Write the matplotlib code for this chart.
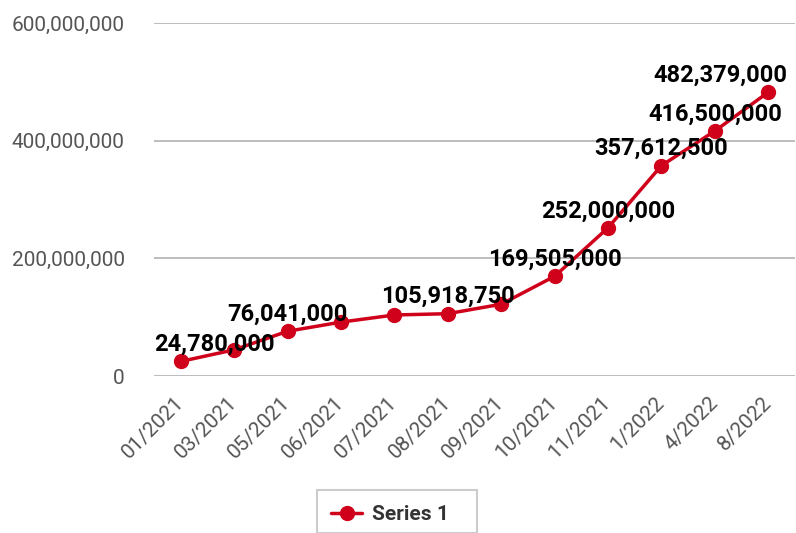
import matplotlib
matplotlib.use("Agg")
import matplotlib.pyplot as plt
from matplotlib.patches import Rectangle
from matplotlib.ticker import FuncFormatter, MultipleLocator

# Monthly totals, one point per reporting period
categories = ["01/2021", "03/2021", "05/2021", "06/2021", "07/2021", "08/2021",
              "09/2021", "10/2021", "11/2021", "1/2022", "4/2022", "8/2022"]
values = [24780000, 44500000, 76041000, 91600000, 103700000, 105918750,
          122000000, 169505000, 252000000, 357612500, 416500000, 482379000]
# which points carry a value label
labeled = [True, False, True, False, False, True,
           False, True, True, True, True, True]
series_name = "Series 1"

RED = "#d0021b"
GRID = "#bdbdbd"
TICK = "#555555"

plt.rcParams["font.family"] = ["Roboto", "DejaVu Sans"]

W, H = 796, 533
fig = plt.figure(figsize=(W / 100, H / 100), dpi=100)
ax = fig.add_axes([154 / W, 1 - 376 / H, 641 / W, 353 / H])

x = list(range(len(categories)))
ax.plot(x, values, color=RED, linewidth=2.5, marker="o", markersize=10,
        markeredgecolor=RED, markerfacecolor=RED, label=series_name, zorder=3,
        solid_capstyle="round")

ax.set_xlim(-0.5, len(categories) - 0.5)
ax.set_ylim(0, 600000000)
ax.yaxis.set_major_locator(MultipleLocator(200000000))
ax.yaxis.set_major_formatter(FuncFormatter(lambda v, p: f"{int(v):,}"))
ax.grid(axis="y", color=GRID, linewidth=1.4)
ax.set_axisbelow(True)
for s in ax.spines.values():
    s.set_visible(False)

ax.set_xticks(x)
ax.set_xticklabels(categories, rotation=45, ha="right", va="center",
                   rotation_mode="anchor")
ax.tick_params(axis="x", length=0, pad=17, labelsize=15, labelcolor=TICK)
ax.tick_params(axis="y", length=0, pad=21, labelsize=15, labelcolor=TICK)
for t in ax.get_yticklabels():
    t.set_va("center_baseline")

# value labels above the points
texts = []
for xi, v, show in zip(x, values, labeled):
    if show:
        t = ax.annotate(f"{v:,}", xy=(xi, v), xytext=(0, 7.5),
                        textcoords="offset points", ha="center", va="baseline",
                        fontsize=17, fontweight="bold", color="black", zorder=4)
        texts.append(t)

# keep labels inside the plot area horizontally
fig.canvas.draw()
renderer = fig.canvas.get_renderer()
axbox = ax.get_window_extent(renderer)
right_limit = axbox.x1 - 8
for t in texts:
    bb = t.get_window_extent(renderer)
    shift = 0.0
    if bb.x0 < axbox.x0:
        shift = axbox.x0 - bb.x0
    elif bb.x1 > right_limit:
        shift = right_limit - bb.x1
    if shift:
        ox, oy = t.xyann
        t.xyann = (ox + shift * 72 / fig.dpi, oy)

# legend below the chart with a plain square box
leg = fig.legend(loc="center left", bbox_to_anchor=(331 / W, 1 - 515 / H),
                 frameon=False, handlelength=1.5, handletextpad=0.45,
                 borderpad=0, borderaxespad=0,
                 prop={"size": 15, "weight": "bold"})
for txt in leg.get_texts():
    txt.set_color("#333333")
fig.add_artist(Rectangle((317 / W, 0), 160 / W, 1 - 490 / H,
                         transform=fig.transFigure, fill=False,
                         edgecolor="#cccccc", linewidth=1.5))

fig.savefig("out.png", dpi=100)
